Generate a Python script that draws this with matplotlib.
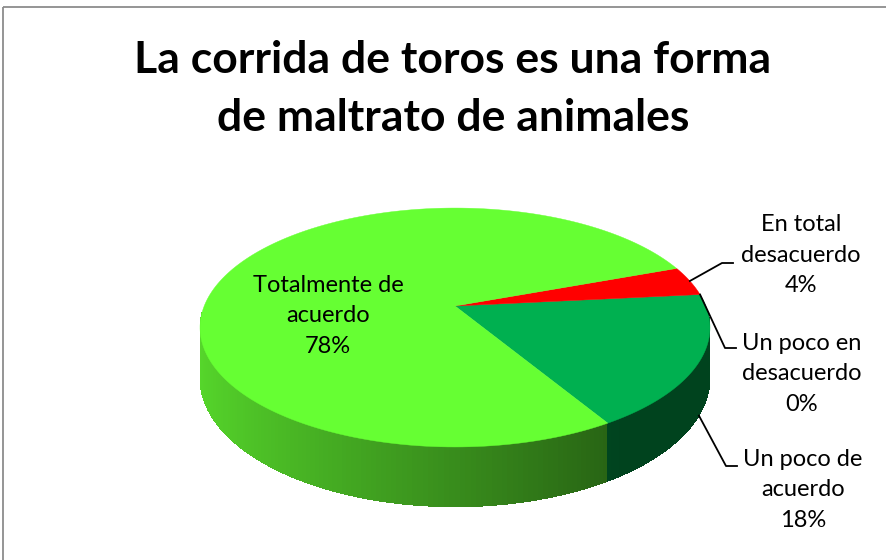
import numpy as np
import matplotlib.pyplot as plt
from matplotlib.patches import Polygon, Rectangle

plt.rcParams['font.family'] = ['Lato', 'DejaVu Sans']

title = 'La corrida de toros es una forma\nde maltrato de animales'
# counter-clockwise order starting at start_angle
labels = ['Un poco de\nacuerdo', 'Un poco en\ndesacuerdo', 'En total\ndesacuerdo', 'Totalmente de\nacuerdo']
values = [18, 0, 4, 78]
colors = ['#00B050', '#00B050', '#FF0000', '#66FF33']
start_angle = -59.0

# label placement (pixels): text centre, elbow of leader line
label_pos = [(803, 490), (802, 374), (801, 255), (328, 316)]
elbows = [(726, 466), (725, 348), (722, 263), None]

# pie geometry (pixels, y down) with a little perspective
cx, cy = 455, 306
rx, ry = 250.8, 115.6
persp = 0.18
depth = 49.0


def project(t, drop=0.0):
    u, v = np.cos(t), np.sin(t)
    w = 1 + persp * v
    return cx + rx * u / w, cy - ry * v / w + drop / w


def shade(hexcol, f):
    c = np.array([int(hexcol[i:i + 2], 16) for i in (1, 3, 5)]) / 255.0
    return tuple(np.clip(c * f, 0, 1))


fig = plt.figure(figsize=(8.86, 5.6), dpi=100)
ax = fig.add_axes([0, 0, 1, 1])
ax.set_xlim(0, 886)
ax.set_ylim(560, 0)
ax.axis('off')

cum = np.concatenate([[0], np.cumsum(values)]) * 3.6
bounds = start_angle + cum

# side of the cylinder, front part only
step = 1.0
for td in np.arange(183, 357, step):
    mid = td + step / 2
    rel = (mid - start_angle) % 360
    k = np.searchsorted(cum, rel, side='right') - 1
    k = min(k, len(values) - 1)
    f = max(0.55 - 0.3 * np.cos(np.radians(mid)), 0.38)
    col = shade(colors[k], f)
    t = np.radians([td, td + step * 1.3])
    x0, y0 = project(t)
    x1, y1 = project(t, depth)
    pts = np.column_stack([np.r_[x0, x1[::-1]], np.r_[y0, y1[::-1]]])
    ax.add_patch(Polygon(pts, closed=True, facecolor=col, edgecolor='none', antialiased=False))

# top face
for k, val in enumerate(values):
    if val <= 0:
        continue
    t = np.radians(np.linspace(bounds[k], bounds[k + 1], 200))
    x, y = project(t)
    pts = np.column_stack([np.r_[cx, x], np.r_[cy, y]])
    ax.add_patch(Polygon(pts, closed=True, facecolor=colors[k], edgecolor=colors[k], lw=0.3))

# labels and leader lines
for k, val in enumerate(values):
    tx, ty = label_pos[k]
    ax.text(tx, ty, f'{labels[k]}\n{val}%', ha='center', va='center',
            fontsize=17, linespacing=1.55, color='black')
    if elbows[k] is None:
        continue
    mid = np.radians((bounds[k] + bounds[k + 1]) / 2)
    drop = depth if np.sin(mid) < -0.3 else 0.0
    px, py = project(mid, drop)
    ex, ey = elbows[k]
    ax.plot([px, ex, ex + 11], [py, ey, ey], color='black', lw=1.3)

ax.text(453, 89, title, ha='center', va='center', fontsize=32,
        fontweight='bold', linespacing=1.55)

ax.add_patch(Rectangle((3, 7), 900, 600, fill=False, edgecolor='#8C8C8C', lw=1.3))

fig.savefig('out.png', dpi=100)
